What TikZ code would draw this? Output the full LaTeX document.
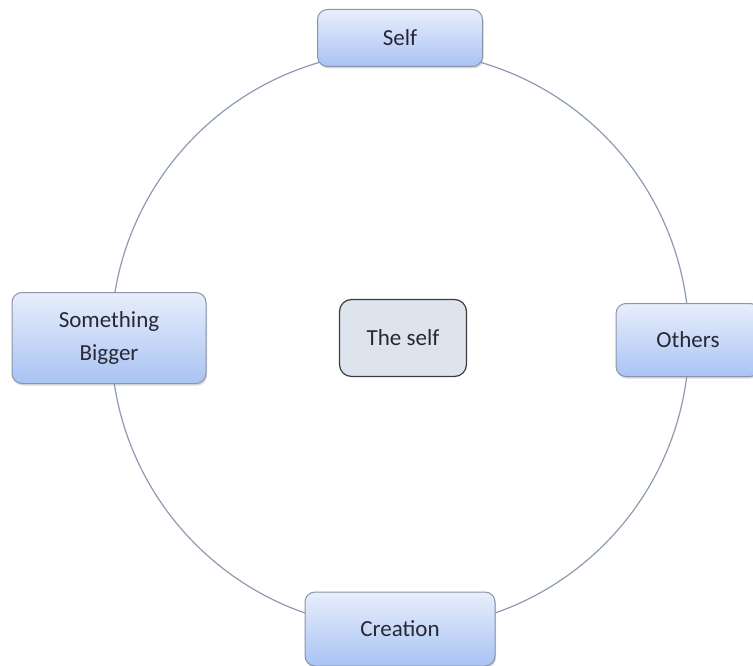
\documentclass[tikz,border=0pt]{standalone}
\usepackage{fontspec}
\setmainfont{Carlito}
\usetikzlibrary{shadows}

\definecolor{ringline}{HTML}{8C9AB2}
\definecolor{boxline}{HTML}{8A94A8}
\definecolor{boxtop}{HTML}{E8EEFB}
\definecolor{boxbottom}{HTML}{A9C3F4}
\definecolor{hubfill}{HTML}{DEE4EE}
\definecolor{hubline}{HTML}{3C3C3C}
\definecolor{ink}{HTML}{282834}

\begin{document}
\begin{tikzpicture}[x=1pt,y=-1pt,
    every node/.style={font=\fontsize{23}{33}\selectfont, text=ink, align=center},
    outer/.style={draw=boxline, line width=1pt, rounded corners=10pt,
        top color=boxtop, bottom color=boxbottom,
        drop shadow={shadow xshift=1pt, shadow yshift=-2pt, opacity=0.3}},
    inner/.style={draw=hubline, line width=1.2pt, rounded corners=12pt, fill=hubfill}]

    \useasboundingbox (0,0) rectangle (753,666);

    \coordinate (hub) at (400,340);

    % the ring behind the boxes
    \draw[ringline, line width=1.2pt] (hub) circle[radius=289];

    \node[outer, minimum width=165pt, minimum height=57pt] (self) at (400,38) {Self};
    \node[outer, minimum width=194pt, minimum height=91pt] (bigger) at (109,338) {Something\\Bigger};
    \node[outer, minimum width=144pt, minimum height=73pt] (others) at (688,340) {Others};
    \node[outer, minimum width=190pt, minimum height=74pt] (creation) at (400,629) {Creation};

    % centre box
    \node[inner, minimum width=127pt, minimum height=77pt] (theself) at (403,338) {The self};
\end{tikzpicture}
\end{document}
